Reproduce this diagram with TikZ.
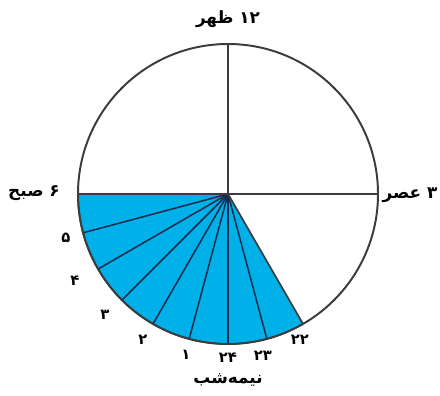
\documentclass[tikz,border=0pt]{standalone}
\usepackage{fontspec}
\TeXXeTstate=1
\newfontfamily\arabicfont[Script=Arabic]{DejaVu Sans}
\definecolor{skyblue}{RGB}{0,176,232}
\definecolor{rimgray}{RGB}{60,60,60}
\definecolor{navyline}{RGB}{20,45,80}
\begin{document}
\begin{tikzpicture}[x=0.025cm,y=0.025cm,
  bigtxt/.style={font=\arabicfont\bfseries\fontsize{12}{14}\selectfont, inner sep=0pt},
  numtxt/.style={font=\arabicfont\bfseries\fontsize{10.5}{12}\selectfont, inner sep=0pt},
  rim/.style={draw=rimgray, line width=1.4pt},
  spoke/.style={draw=navyline, line width=1.1pt},
  axis/.style={draw=rimgray, line width=1.2pt}]
\useasboundingbox (0,0) rectangle (440,395);
\coordinate (c) at (228,201);
\fill[skyblue] (c) -- ([shift={(180:150)}]c) arc[start angle=180,end angle=300,radius=150] -- cycle;
\foreach \a in {195,210,...,285} \draw[spoke] (c) -- ([shift={(\a:150)}]c);
\draw[spoke] ([shift={(180:150)}]c) arc[start angle=180,end angle=300,radius=150];
\draw[axis] ([shift={(180:150)}]c) -- ([shift={(0:150)}]c);
\draw[axis] (c) -- ([shift={(90:150)}]c);
\draw[axis] (c) -- ([shift={(300:150)}]c);
\draw[rim] (c) circle[radius=150];
\node[bigtxt] (noon) at (228,376) {\beginR\beginL ۱۲\endL{} ظهر\endR};
\node[bigtxt] (morn) at (34,202) {\beginR\beginL ۶\endL{} صبح\endR};
\node[bigtxt] (aft) at (410,200) {\beginR\beginL ۳\endL{} عصر\endR};
\node[bigtxt] (mid) at (228,15) {\beginR نیمه‌شب\endR};
\node[numtxt] (h22) at (300,55) {\beginL ۲۲\endL};
\node[numtxt] (h23) at (263,39) {\beginL ۲۳\endL};
\node[numtxt] (h24) at (228,37) {\beginL ۲۴\endL};
\node[numtxt] (h1) at (186,40) {۱};
\node[numtxt] (h2) at (143,55) {۲};
\node[numtxt] (h3) at (105,80) {۳};
\node[numtxt] (h4) at (75,114) {۴};
\node[numtxt] (h5) at (66,157) {۵};
\end{tikzpicture}
\end{document}
